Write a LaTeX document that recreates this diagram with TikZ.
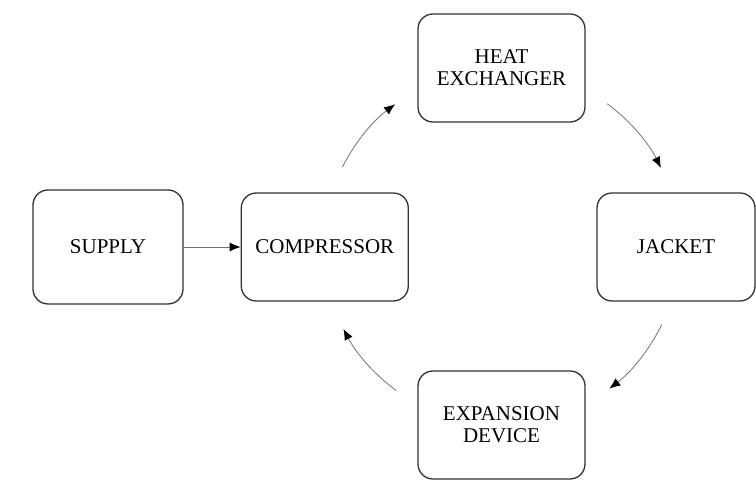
\documentclass[tikz,border=0pt]{standalone}
\usepackage{fontspec}
\setmainfont{Liberation Serif}
\usetikzlibrary{positioning,arrows.meta,calc}

\begin{document}
\begin{tikzpicture}
  [x=1pt,y=1pt,
   unitN/.style={draw=black!80,line width=1.3pt,rounded corners=15pt,
     minimum width=167pt,minimum height=108pt,align=center,
     font=\fontsize{21}{21.7}\selectfont,inner sep=0pt},
   flow/.style={draw=black!55,line width=0.8pt,
     -{Latex[length=11pt,width=9pt,black]}},
   node distance=57pt]

  \useasboundingbox (0,0) rectangle (756,495);

  \node[unitN,minimum width=150pt,minimum height=114pt] (supply) at (108,248) {SUPPLY};
  \node[unitN] (comp) [right=of supply] {COMPRESSOR};
  \node[unitN] (heat) at (501.5,427) {HEAT\\EXCHANGER};
  \node[unitN,minimum width=158pt] (jacket) at (676,248) {JACKET};
  \node[unitN] (expan) at (501.5,70) {EXPANSION\\DEVICE};

  \coordinate (hub) at (501.5,248);

  \draw[flow] (supply) -- (comp);
  \draw[flow] ($(hub)+(153.3:178)$) arc[start angle=153.3,end angle=126.7,radius=178];
  \draw[flow] ($(hub)+(53.6:178)$)  arc[start angle=53.6,end angle=26.4,radius=178];
  \draw[flow] ($(hub)+(-25.8:178)$) arc[start angle=-25.8,end angle=-52.7,radius=178];
  \draw[flow] ($(hub)+(-126.2:178)$) arc[start angle=-126.2,end angle=-152.6,radius=178];
\end{tikzpicture}
\end{document}
